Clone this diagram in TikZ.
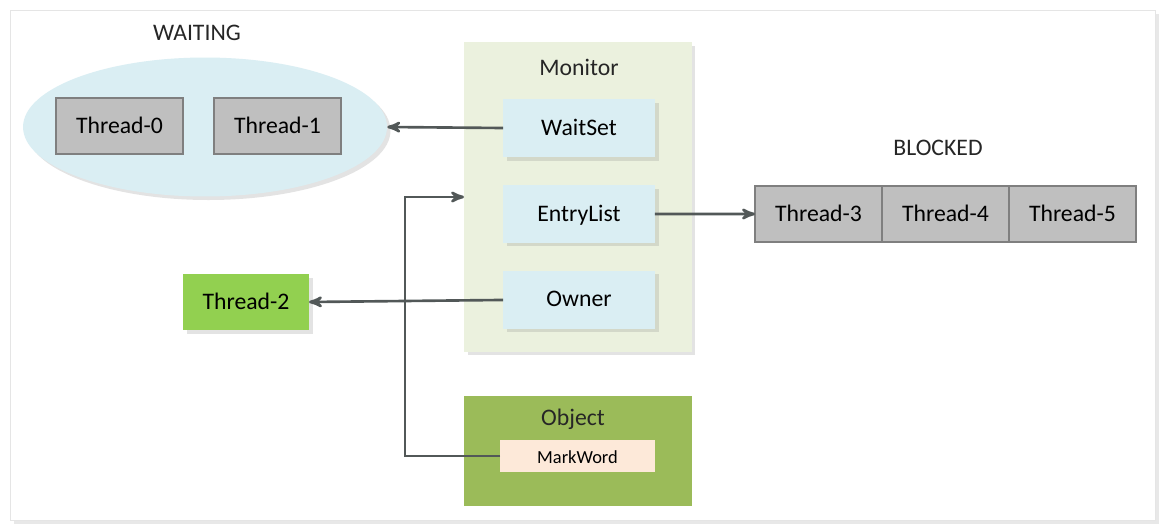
\documentclass[tikz,border=0pt]{standalone}
\usepackage{fontspec}
\setmainfont{Carlito}
\usetikzlibrary{arrows,calc,positioning,shapes,shadows}
\definecolor{my_gray}{RGB}{191, 191, 191}
\definecolor{my_edge}{RGB}{127, 127, 127}
\definecolor{my_line}{RGB}{82, 88, 88}
\definecolor{my_blue}{RGB}{218, 238, 243}
\definecolor{my_cream}{RGB}{235, 241, 222}
\definecolor{my_green}{RGB}{146, 208, 80}
\definecolor{my_olive}{RGB}{155, 187, 89}
\definecolor{my_peach}{RGB}{253, 233, 217}
\tikzset{
  softshadow/.style = {drop shadow={shadow xshift=2pt, shadow yshift=-2pt, opacity=0.22}},
  box_n/.style = {inner sep=0pt, outer sep=0pt, text centered, text height=0.8em, text depth=0pt,
  font=\fontsize{13.5}{16}\selectfont},
  thread/.style = {box_n, draw=my_edge, line width=1.4pt, fill=my_gray, minimum width=2.54cm,
  minimum height=1.12cm},
  field/.style = {box_n, fill=my_blue, minimum width=3.04cm, minimum height=1.16cm, softshadow},
  caption/.style = {box_n, text=black!85}
}
\begin{document}
\begin{tikzpicture}[x=0.02cm, y=-0.02cm, conn/.style={->, >=stealth', draw=my_line, line width=1.5pt},
          frame/.style={fill=white, draw=black!10, drop shadow={shadow xshift=2.5pt, shadow yshift=-2.5pt, opacity=0.18}}]
  \useasboundingbox (0,0) rectangle (1167,528);
  \fill [white] (0,0) rectangle (1167,528);
  \draw [frame] (10,10) rectangle (1155,520);

  \node [caption] (waitlbl) at (197,33) {WAITING};
  \node [ellipse, fill=my_blue, minimum width=7.28cm, minimum height=2.78cm, softshadow] (waitpool) at (205,127) {};
  \node [thread] (t0) at (119.5,126) {Thread-0};
  \node [thread, right=0.62cm of t0] (t1) {Thread-1};

  \node [box_n, fill=my_cream, minimum width=4.56cm, minimum height=6.2cm, softshadow] (monitor) at (578,197) {};
  \node [caption] (montitle) at (579,68) {Monitor};
  \node [field] (waitset) at (579,128) {WaitSet};
  \node [field, below=0.56cm of waitset] (entry) {EntryList};
  \node [field, below=0.56cm of entry] (owner) {Owner};

  \node [caption] (blocklbl) at (938,148) {BLOCKED};
  \node [thread] (t3) at (818.5,214) {Thread-3};
  \node [thread, right=0pt of t3] (t4) {Thread-4};
  \node [thread, right=0pt of t4] (t5) {Thread-5};

  \node [box_n, fill=my_green, minimum width=2.52cm, minimum height=1.12cm, softshadow] (t2) at (246,302) {Thread-2};

  \node [box_n, fill=my_olive, minimum width=4.56cm, minimum height=2.2cm] (object) at (578,451) {};
  \node [caption] (objtitle) at (573,418) {Object};
  \node [box_n, fill=my_peach, minimum width=3.1cm, minimum height=0.64cm, font=\fontsize{10.5}{12}\selectfont] (mark) at (577.5,456) {MarkWord};
  \coordinate (bend) at (405,197);

  \draw [conn] (waitset.west) -- (waitpool.east);
  \draw [conn] (entry.east) -- (t3.west);
  \draw [conn] (owner.west) -- (t2.east);
  \draw [conn] (mark.west) -| (bend) -- (bend -| monitor.west);
\end{tikzpicture}
\end{document}
